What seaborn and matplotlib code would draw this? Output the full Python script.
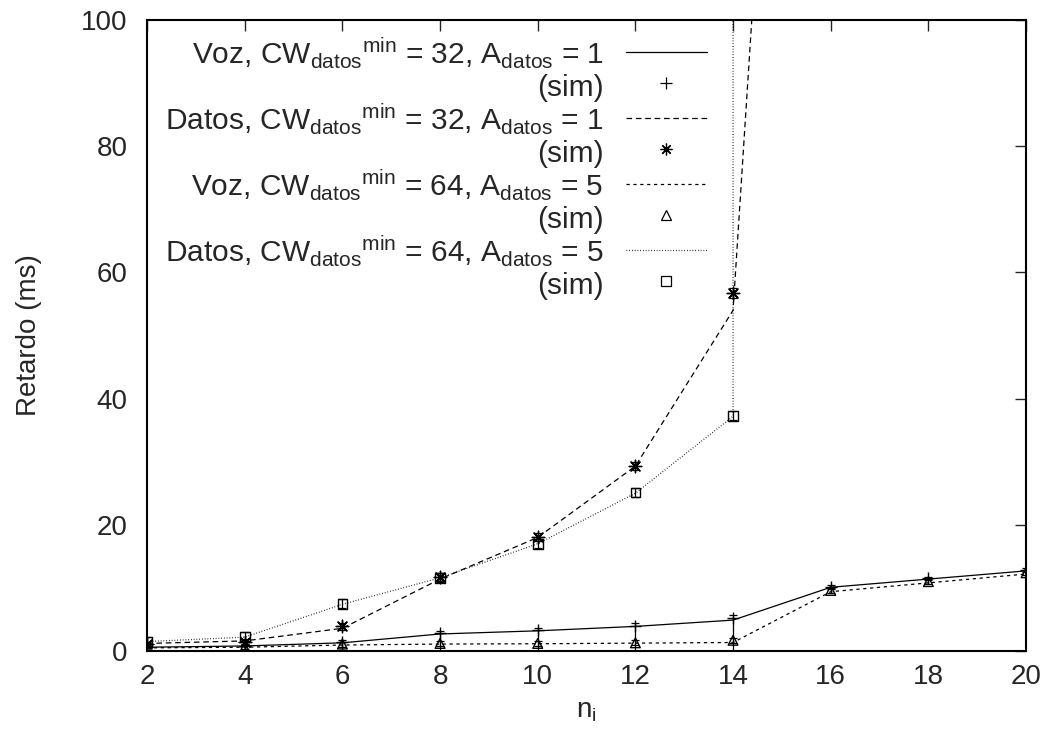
import numpy as np
import matplotlib
matplotlib.use("Agg")
import matplotlib.pyplot as plt
import seaborn as sns
import pandas as pd

# x axis: number of stations n_i
n = [2, 4, 6, 8, 10, 12, 14, 16, 18, 20]

# analytical model curves
voz32_model = [0.6, 0.8, 1.3, 2.7, 3.2, 3.9, 4.9, 10.1, 11.4, 12.7]
datos32_x = [2, 4, 6, 8, 10, 12, 14, 16]
datos32_model = [1.2, 1.6, 3.6, 11.4, 18.0, 29.3, 54.0, 294.0]
voz64_model = [0.5, 0.6, 0.95, 1.1, 1.15, 1.25, 1.35, 9.4, 10.8, 12.2]
datos64_x = [2, 4, 6, 8, 10, 12, 14, 14]
datos64_model = [1.5, 2.2, 7.4, 11.6, 17.0, 25.0, 37.2, 1000.0]

# simulation points (with confidence intervals)
voz32_sim = [0.6, 0.8, 1.5, 2.8, 3.3, 4.0, 5.3, 10.2, 11.5, 12.8]
voz32_err_lo = [0.6, 0.8, 1.5, 2.8, 3.3, 4.0, 5.3, 0.3, 0.3, 0.3]
voz32_err_hi = [0.3, 0.3, 0.3, 0.4, 0.4, 0.4, 0.4, 0.3, 0.3, 0.3]
datos32_sim_x = [2, 4, 6, 8, 10, 12, 14]
datos32_sim = [1.1, 1.5, 3.9, 11.7, 18.1, 29.3, 56.7]
datos32_err = [0.4, 0.4, 0.5, 0.6, 0.6, 0.6, 0.8]
voz64_sim = [0.4, 0.6, 1.1, 1.2, 1.2, 1.3, 1.7, 9.6, 11.0, 12.4]
voz64_err = [0.3, 0.3, 0.4, 0.4, 0.4, 0.4, 0.4, 0.4, 0.4, 0.4]
datos64_sim_x = [2, 4, 6, 8, 10, 12, 14]
datos64_sim = [1.5, 2.3, 7.5, 11.6, 17.0, 25.1, 37.3]
datos64_err = [0.7, 0.7, 0.7, 0.7, 0.7, 0.7, 0.7]

labels = [
    r"Voz, CW$_{datos}{}^{min}$ = 32, A$_{datos}$ = 1",
    r"Datos, CW$_{datos}{}^{min}$ = 32, A$_{datos}$ = 1",
    r"Voz, CW$_{datos}{}^{min}$ = 64, A$_{datos}$ = 5",
    r"Datos, CW$_{datos}{}^{min}$ = 64, A$_{datos}$ = 5",
]

sns.set_style("white")
plt.rcParams["font.family"] = ["Liberation Sans", "DejaVu Sans"]
plt.rcParams["mathtext.fontset"] = "custom"
plt.rcParams["mathtext.rm"] = "Liberation Sans"
plt.rcParams["mathtext.it"] = "Liberation Sans:italic"
plt.rcParams["mathtext.default"] = "regular"

FS = 20
LFS = 21.5

fig = plt.figure(figsize=(10.54, 7.47), dpi=100)
ax = fig.add_axes([0.1395, 0.1285, 0.834, 0.8447])

lw = 0.9
model_styles = [
    (n, voz32_model, None),
    (datos32_x, datos32_model, (4.5, 3.0)),
    (n, voz64_model, (2.6, 2.9)),
    (datos64_x, datos64_model, (0.6, 1.6)),
]
sim_styles = [
    (n, voz32_sim, [voz32_err_lo, voz32_err_hi], "+", 9, True),
    (datos32_sim_x, datos32_sim, datos32_err, (8, 2, 0), 9, True),
    (n, voz64_sim, voz64_err, "^", 7, False),
    (datos64_sim_x, datos64_sim, datos64_err, "s", 7, False),
]

handles = []
for i in range(4):
    xs, ys, dash = model_styles[i]
    df = pd.DataFrame({"x": xs, "y": ys})
    sns.lineplot(data=df, x="x", y="y", ax=ax, estimator=None, sort=False,
                 color="black", linewidth=lw)
    line = ax.get_lines()[-1]
    if dash is not None:
        line.set_dashes(dash)
        h_line, = ax.plot([], [], color="black", linewidth=lw, dashes=dash)
    else:
        h_line, = ax.plot([], [], color="black", linewidth=lw, linestyle="-")

    sx, sy, err, mk, ms, filled_like = sim_styles[i]
    ax.errorbar(sx, sy, yerr=err, fmt="none", ecolor="black",
                elinewidth=0.9, capsize=3, capthick=0.9)
    sdf = pd.DataFrame({"x": sx, "y": sy})
    if filled_like:
        sns.scatterplot(data=sdf, x="x", y="y", ax=ax, marker=mk, s=ms ** 2,
                        color="black", linewidth=1.0, zorder=3)
    else:
        sns.scatterplot(data=sdf, x="x", y="y", ax=ax, marker=mk, s=ms ** 2,
                        facecolor="none", edgecolor="black", linewidth=1.0,
                        zorder=3)
    h_pt, = ax.plot([], [], linestyle="none", marker=mk, markersize=ms - 0.5,
                    color="black", markerfacecolor="none",
                    markeredgewidth=0.9)
    handles += [h_line, h_pt]

leg_labels = []
for lab in labels:
    leg_labels += [lab, "(sim)"]

ax.set_xlim(2, 20)
ax.set_ylim(0, 100)
ax.set_xticks(range(2, 21, 2))
ax.set_yticks(range(0, 101, 20))
ax.tick_params(direction="in", length=8, width=1, top=True, right=True,
               labelsize=FS)
ax.tick_params(axis="x", pad=9)
ax.tick_params(axis="y", pad=14)
for sp in ax.spines.values():
    sp.set_linewidth(1.5)
    sp.set_color("black")

ax.set_xlabel(r"n$_i$", fontsize=FS, labelpad=6)
ax.set_ylabel("Retardo (ms)", fontsize=FS, labelpad=28)

# handle box ~33 px per row, like gnuplot's key
leg = ax.legend(handles, leg_labels, loc="upper right",
                bbox_to_anchor=(0.637, 0.975), frameon=False, fontsize=LFS,
                markerfirst=False, handlelength=81 / (LFS * 100 / 72),
                handletextpad=0.75, labelspacing=0.0,
                handleheight=33 / (LFS * 100 / 72), borderaxespad=0,
                borderpad=0)

fig.savefig("out.png", dpi=100)
